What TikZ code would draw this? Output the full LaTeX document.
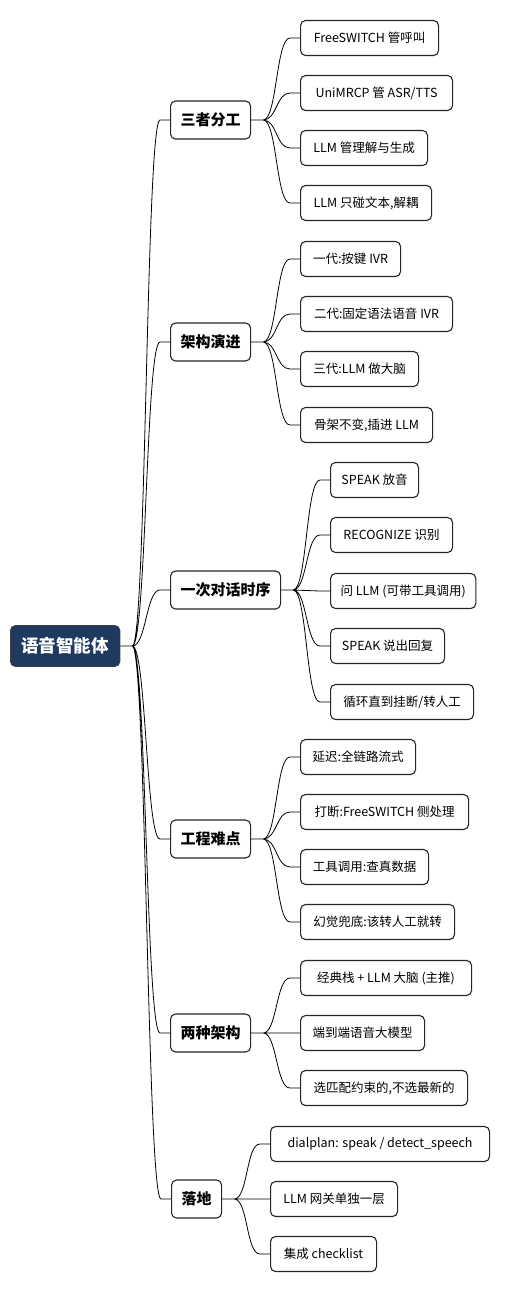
\documentclass[tikz,border=0pt]{standalone}
\usepackage{fontspec}
\setmainfont{Noto Sans CJK SC}
\definecolor{rootblue}{RGB}{30,58,95}
\tikzset{
  rootbox/.style={draw=black!75, fill=rootblue, text=white, rounded corners=5bp, line width=0.8bp,
    font=\bfseries\fontsize{17.5bp}{20bp}\selectfont, minimum height=41bp, inner xsep=11bp, anchor=west},
  catbox/.style={draw=black!85, fill=white, rounded corners=5bp, line width=1.1bp,
    font=\bfseries\fontsize{15bp}{18bp}\selectfont, minimum height=38bp, inner xsep=10bp, anchor=west},
  leafbox/.style={draw=black!85, fill=white, rounded corners=5bp, line width=1.1bp,
    font=\fontsize{12.5bp}{15bp}\selectfont, minimum height=35bp, inner xsep=10bp, anchor=west,
    minimum width=#1},
  branch/.style={line width=0.8bp, to path={-- ++(12,0) .. controls +(14,0) and +(-14,0) .. ([xshift=-10bp]\tikztotarget) -- (\tikztotarget)}}
}
\begin{document}
\begin{tikzpicture}[x=1bp, y=-1bp]
    \useasboundingbox (0,0) rectangle (509,1292);

    % Root
    \node[rootbox] (root) at (10, 646) {语音智能体};

    % Categories
    \node[catbox] (roles) at (170, 120) {三者分工};
    \node[catbox] (evol)  at (170, 342) {架构演进};
    \node[catbox] (turn)  at (170, 590) {一次对话时序};
    \node[catbox] (hard)  at (170, 839) {工程难点};
    \node[catbox] (arch)  at (170, 1033) {两种架构};
    \node[catbox] (land)  at (171, 1199) {落地};

    % Leaves
    \node[leafbox=138bp] (roles1) at (300, 38)  {FreeSWITCH 管呼叫};
    \node[leafbox=152bp] (roles2) at (300, 93)  {UniMRCP 管 ASR/TTS};
    \node[leafbox=127bp] (roles3) at (300, 148) {LLM 管理解与生成};
    \node[leafbox=131bp] (roles4) at (300, 203) {LLM 只碰文本,解耦};

    \node[leafbox=100bp] (evol1) at (300, 259) {一代:按键 IVR};
    \node[leafbox=152bp] (evol2) at (300, 314) {二代:固定语法语音 IVR};
    \node[leafbox=118bp] (evol3) at (300, 369) {三代:LLM 做大脑};
    \node[leafbox=132bp] (evol4) at (300, 425) {骨架不变,插进 LLM};

    \node[leafbox=88bp]  (turn1) at (330, 480) {SPEAK 放音};
    \node[leafbox=122bp] (turn2) at (330, 535) {RECOGNIZE 识别};
    \node[leafbox=143bp] (turn3) at (330, 591) {问 LLM (可带工具调用)};
    \node[leafbox=114bp] (turn4) at (330, 646) {SPEAK 说出回复};
    \node[leafbox=143bp] (turn5) at (330, 702) {循环直到挂断/转人工};

    \node[leafbox=115bp] (hard1) at (300, 757) {延迟:全链路流式};
    \node[leafbox=168bp] (hard2) at (300, 812) {打断:FreeSWITCH 侧处理};
    \node[leafbox=128bp] (hard3) at (300, 867) {工具调用:查真数据};
    \node[leafbox=154bp] (hard4) at (300, 922) {幻觉兜底:该转人工就转};

    \node[leafbox=171bp] (arch1) at (300, 978)  {经典栈 + LLM 大脑 (主推)};
    \node[leafbox=124bp] (arch2) at (300, 1033) {端到端语音大模型};
    \node[leafbox=167bp] (arch3) at (300, 1088) {选匹配约束的,不选最新的};

    \node[leafbox=219bp] (land1) at (270, 1144) {dialplan: speak / detect\_speech};
    \node[leafbox=127bp] (land2) at (270, 1199) {LLM 网关单独一层};
    \node[leafbox=106bp] (land3) at (270, 1254) {集成 checklist};

    % Draw edges
    \draw[branch] (root.east) to (roles.west) (root.east) to (evol.west) (root.east) to (turn.west)
                  (root.east) to (hard.west) (root.east) to (arch.west) (root.east) to (land.west);
    \draw[branch] (roles.east) to (roles1.west) (roles.east) to (roles2.west)
                  (roles.east) to (roles3.west) (roles.east) to (roles4.west);
    \draw[branch] (evol.east) to (evol1.west) (evol.east) to (evol2.west)
                  (evol.east) to (evol3.west) (evol.east) to (evol4.west);
    \draw[branch] (turn.east) to (turn1.west) (turn.east) to (turn2.west) (turn.east) to (turn3.west)
                  (turn.east) to (turn4.west) (turn.east) to (turn5.west);
    \draw[branch] (hard.east) to (hard1.west) (hard.east) to (hard2.west)
                  (hard.east) to (hard3.west) (hard.east) to (hard4.west);
    \draw[branch] (arch.east) to (arch1.west) (arch.east) to (arch2.west) (arch.east) to (arch3.west);
    \draw[branch] (land.east) to (land1.west) (land.east) to (land2.west) (land.east) to (land3.west);

\end{tikzpicture}
\end{document}
